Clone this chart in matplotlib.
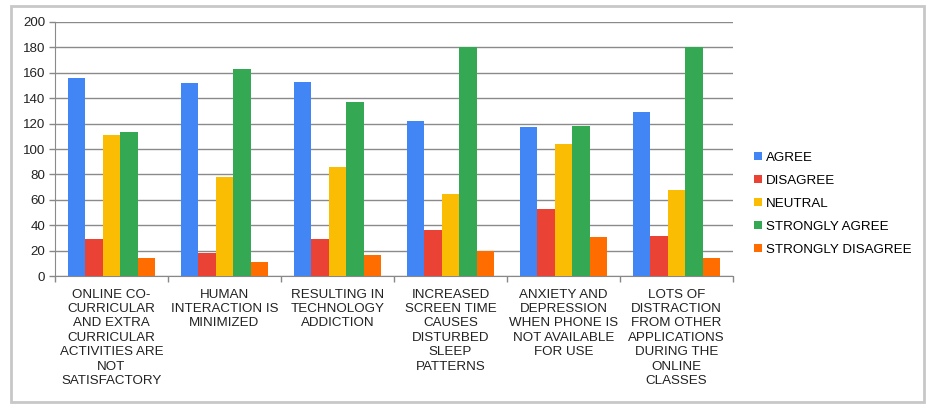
import matplotlib
matplotlib.use("Agg")
import matplotlib.pyplot as plt
import numpy as np
from matplotlib.patches import Rectangle

categories = [
    "ONLINE CO-\nCURRICULAR\nAND EXTRA\nCURRICULAR\nACTIVITIES ARE\nNOT\nSATISFACTORY",
    "HUMAN\nINTERACTION IS\nMINIMIZED",
    "RESULTING IN\nTECHNOLOGY\nADDICTION",
    "INCREASED\nSCREEN TIME\nCAUSES\nDISTURBED\nSLEEP\nPATTERNS",
    "ANXIETY AND\nDEPRESSION\nWHEN PHONE IS\nNOT AVAILABLE\nFOR USE",
    "LOTS OF\nDISTRACTION\nFROM OTHER\nAPPLICATIONS\nDURING THE\nONLINE\nCLASSES",
]
series_names = ["AGREE", "DISAGREE", "NEUTRAL", "STRONGLY AGREE", "STRONGLY DISAGREE"]
agree = [156, 152, 153, 122, 117, 129]
disagree = [29, 18, 29, 36, 53, 32]
neutral = [111, 78, 86, 65, 104, 68]
strongly_agree = [113, 163, 137, 180, 118, 180]
strongly_disagree = [14, 11, 17, 20, 31, 14]
y_ticks = list(range(0, 201, 20))

colors = ["#4285F4", "#EA4335", "#FBBC04", "#34A853", "#FF6D01"]
series = [agree, disagree, neutral, strongly_agree, strongly_disagree]

plt.rcParams['font.family'] = ['Liberation Sans', 'DejaVu Sans']
FS = 9.6

fig = plt.figure(figsize=(9.33, 4.09), dpi=100)
fig.patch.set_facecolor("white")
# outer frame
fig.patches.append(Rectangle((11/933, 1 - 402/409), (924 - 11)/933, (402 - 6)/409,
                             transform=fig.transFigure, fill=False,
                             edgecolor="#c8c8c8", linewidth=2, zorder=0))

ax = fig.add_axes([55/933, 1 - 276.3/409, (733 - 55)/933, (276.3 - 21.7)/409])
x = np.arange(len(categories))
bw = 0.155
for i, (vals, name, c) in enumerate(zip(series, series_names, colors)):
    offs = (i - 2) * bw
    ax.bar(x + offs, vals, width=bw, color=c, label=name, zorder=3)

ax.set_xlim(-0.5, len(categories) - 0.5)
ax.set_ylim(0, 200)
ax.set_yticks(y_ticks)
ax.set_yticklabels([str(v) for v in y_ticks], fontsize=FS, color="#222222")
ax.yaxis.grid(True, color="#8a8a8a", linewidth=1, zorder=0)
ax.set_axisbelow(True)

ax.set_xticks(x)
ax.set_xticklabels(categories, fontsize=FS, color="#222222", linespacing=1.26)
ax.set_xticks(np.arange(-0.5, len(categories), 1), minor=True)
ax.tick_params(axis="x", which="major", length=0, pad=9)
ax.tick_params(axis="x", which="minor", length=4, color="#888888", width=1)
ax.tick_params(axis="y", length=4, color="#888888", width=1, pad=3)

for s in ["top", "right"]:
    ax.spines[s].set_visible(False)
ax.spines["left"].set_color("#8a8a8a")
ax.spines["bottom"].set_color("#888888")

handles, labels = ax.get_legend_handles_labels()
leg = fig.legend(handles, labels, loc="center left", bbox_to_anchor=(749/933, 1 - 204/409),
                 frameon=False, fontsize=FS, handlelength=0.55, handleheight=0.55,
                 handletextpad=0.3, labelspacing=0.82, borderaxespad=0)

fig.savefig("out.png", dpi=100, facecolor="white")
